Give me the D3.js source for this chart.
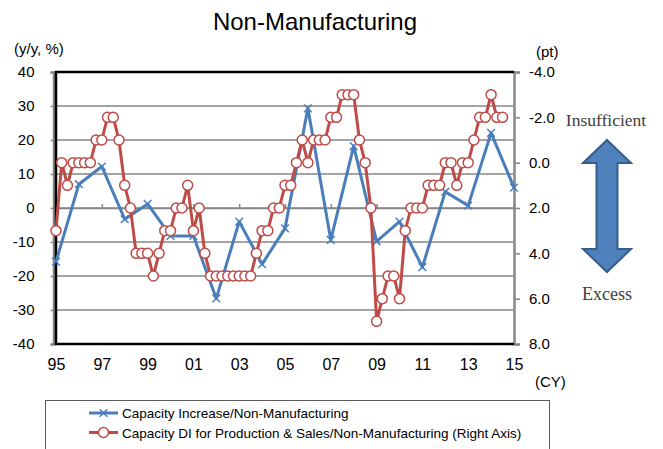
<!DOCTYPE html>
<html>
<head>
<meta charset="utf-8">
<script src="https://cdn.jsdelivr.net/npm/d3@7/dist/d3.min.js"></script>
<style>
    body { margin: 0; background: #fff; }
    svg text { font-family: "Liberation Sans", Arial, sans-serif; fill: #000; }
</style>
</head>
<body>
<div id="chart"></div>
<script>

// Annual capacity increase (y/y, %), left axis
var years = [1995, 1996, 1997, 1998, 1999, 2000, 2001, 2002, 2003, 2004, 2005,
             2006, 2007, 2008, 2009, 2010, 2011, 2012, 2013, 2014, 2015];
var capacityIncrease = [-15.8, 7.0, 12.2, -3.3, 1.2, -8.2, -8.2, -26.6, -4.0, -16.5, -6.0,
                        29.3, -9.4, 18.2, -9.8, -4.0, -17.4, 4.8, 0.7, 22.1, 6.0];

// Quarterly capacity DI (pt), right axis, starting 1995 Q1
var diStartYear = 1995;
var capacityDI = [ 3,  0,  1,  0,   0,  0,  0, -1,  -1, -2, -2, -1,   1,  2,  4,  4,
                   4,  5,  4,  3,   3,  2,  2,  1,   3,  2,  4,  5,   5,  5,  5,  5,
                   5,  5,  5,  4,   3,  3,  2,  2,   1,  1,  0, -1,   0, -1, -1, -1,
                  -2, -2, -3, -3,  -3, -1,  0,  2,   7,  6,  5,  5,   6,  3,  2,  2,
                   2,  1,  1,  1,   0,  0,  1,  0,   0, -1, -2, -2,  -3, -2, -2];

// Axis ticks
var leftTicks = [-40, -30, -20, -10, 0, 10, 20, 30, 40];
var rightTicks = [-4, -2, 0, 2, 4, 6, 8];
var xTickYears = [1995, 1997, 1999, 2001, 2003, 2005, 2007, 2009, 2011, 2013, 2015];

// Legend labels
var seriesNames = ["Capacity Increase/Non-Manufacturing",
                   "Capacity DI for Production & Sales/Non-Manufacturing (Right Axis)"];

var BLUE = "#4a7ebb", RED = "#be4b48", GRID = "#868686";

var W = 663, H = 449;
var margin = { top: 72, left: 56 },
    width = 458,
    height = 272;

var svg = d3.select("#chart").append("svg")
    .attr("width", W)
    .attr("height", H);

// Title and unit labels
svg.append("text")
    .attr("x", 315).attr("y", 30)
    .attr("text-anchor", "middle")
    .style("font-size", "24px")
    .text("Non-Manufacturing");

svg.append("text").attr("x", 14).attr("y", 54).style("font-size", "15px").text("(y/y, %)");
svg.append("text").attr("x", 536).attr("y", 57).style("font-size", "15px").text("(pt)");
svg.append("text").attr("x", 535).attr("y", 387).style("font-size", "15px").text("(CY)");

var g = svg.append("g")
    .attr("transform", "translate(" + margin.left + "," + margin.top + ")");

// Scales
var xScale = d3.scaleLinear().domain([1995, 2015]).range([0, width]);
var yLeft = d3.scaleLinear().domain([-40, 40]).range([height, 0]);
var yRight = d3.scaleLinear().domain([-4, 8]).range([0, height]);

// Horizontal gridlines
g.append("g")
    .selectAll("line")
    .data(leftTicks.slice(1, -1))
    .enter().append("line")
    .attr("x1", 0).attr("x2", width)
    .attr("y1", function (d) { return yLeft(d); })
    .attr("y2", function (d) { return yLeft(d); })
    .style("stroke", GRID)
    .style("stroke-width", 1.5);

// Category axis crossing at zero, with small upward ticks
var xAxisZero = g.append("g")
    .attr("transform", "translate(0," + yLeft(0) + ")")
    .call(d3.axisTop(xScale).tickValues(xTickYears).tickSize(4).tickFormat(""));
xAxisZero.select(".domain").style("stroke", GRID).style("stroke-width", 1.5);
xAxisZero.selectAll(".tick line").style("stroke", GRID).style("stroke-width", 1.5);

// Category labels under the plot
var xLabels = g.append("g")
    .attr("transform", "translate(0," + height + ")")
    .call(d3.axisBottom(xScale).tickValues(xTickYears).tickSize(0).tickPadding(14.6)
        .tickFormat(function (d) { return d3.format("02d")(d % 100); }));
xLabels.select(".domain").remove();
xLabels.selectAll("text").style("font-size", "16px").style("fill", "#000");

// Left value axis
var leftAxis = g.append("g")
    .attr("transform", "translate(-2.5,0)")
    .call(d3.axisLeft(yLeft).tickValues(leftTicks).tickSize(3).tickPadding(16)
        .tickFormat(function (d) { return String(d); }));
leftAxis.select(".domain").style("stroke", GRID).style("stroke-width", 2.5);
leftAxis.selectAll(".tick line").style("stroke", GRID).style("stroke-width", 1.5);
leftAxis.selectAll("text").style("font-size", "15px").style("fill", "#000");

// Right value axis (reversed)
var rightAxis = g.append("g")
    .attr("transform", "translate(" + width + ",0)")
    .call(d3.axisRight(yRight).tickValues(rightTicks).tickSize(6).tickPadding(9)
        .tickFormat(function (d) { return d.toFixed(1); }));
rightAxis.select(".domain").style("stroke", GRID).style("stroke-width", 2.5);
rightAxis.selectAll(".tick line").style("stroke", GRID).style("stroke-width", 1.5);
rightAxis.selectAll("text").style("font-size", "15px").style("fill", "#000");

// Black plot frame: top, left, bottom
g.append("path")
    .attr("d", "M" + width + ",0H0V" + height + "H" + width)
    .style("fill", "none")
    .style("stroke", "#000")
    .style("stroke-width", 2.5);

//------------------------------------------------------------------------------------->

var blueData = years.map(function (y, i) { return { x: y, v: capacityIncrease[i] }; });
var redData = capacityDI.map(function (v, i) { return { x: diStartYear + i / 4, v: v }; });

var blueLine = d3.line()
    .x(function (d) { return xScale(d.x); })
    .y(function (d) { return yLeft(d.v); });

var redLine = d3.line()
    .x(function (d) { return xScale(d.x); })
    .y(function (d) { return yRight(d.v); });

var crossSymbol = d3.symbol().type(d3.symbolX).size(40);

g.append("path")
    .datum(blueData)
    .attr("d", blueLine)
    .style("fill", "none")
    .style("stroke", BLUE)
    .style("stroke-width", 3)
    .style("stroke-linejoin", "round");

g.append("g")
    .selectAll("path")
    .data(blueData)
    .enter().append("path")
    .attr("transform", function (d) { return "translate(" + xScale(d.x) + "," + yLeft(d.v) + ")"; })
    .attr("d", crossSymbol)
    .style("fill", "none")
    .style("stroke", BLUE)
    .style("stroke-width", 1.5);

g.append("path")
    .datum(redData)
    .attr("d", redLine)
    .style("fill", "none")
    .style("stroke", RED)
    .style("stroke-width", 3)
    .style("stroke-linejoin", "round");

g.append("g")
    .selectAll("circle")
    .data(redData)
    .enter().append("circle")
    .attr("cx", function (d) { return xScale(d.x); })
    .attr("cy", function (d) { return yRight(d.v); })
    .attr("r", 5)
    .style("fill", "#fff")
    .style("stroke", RED)
    .style("stroke-width", 1.5);

//------------------------------------------------------------------------------------->

// Insufficient / Excess annotation with a double arrow
svg.append("text")
    .attr("x", 606).attr("y", 126)
    .attr("text-anchor", "middle")
    .style("font-family", "'Liberation Serif', 'Times New Roman', serif")
    .style("font-size", "17.5px")
    .style("fill", "#404040")
    .text("Insufficient");

svg.append("text")
    .attr("x", 607).attr("y", 300)
    .attr("text-anchor", "middle")
    .style("font-family", "'Liberation Serif', 'Times New Roman', serif")
    .style("font-size", "18px")
    .style("fill", "#404040")
    .text("Excess");

var arrow = { cx: 607, top: 140, bottom: 272, head: 23, headW: 24, shaftW: 10.5 };
var arrowPath = d3.path();
arrowPath.moveTo(arrow.cx, arrow.top);
arrowPath.lineTo(arrow.cx + arrow.headW, arrow.top + arrow.head);
arrowPath.lineTo(arrow.cx + arrow.shaftW, arrow.top + arrow.head);
arrowPath.lineTo(arrow.cx + arrow.shaftW, arrow.bottom - arrow.head);
arrowPath.lineTo(arrow.cx + arrow.headW, arrow.bottom - arrow.head);
arrowPath.lineTo(arrow.cx, arrow.bottom);
arrowPath.lineTo(arrow.cx - arrow.headW, arrow.bottom - arrow.head);
arrowPath.lineTo(arrow.cx - arrow.shaftW, arrow.bottom - arrow.head);
arrowPath.lineTo(arrow.cx - arrow.shaftW, arrow.top + arrow.head);
arrowPath.lineTo(arrow.cx - arrow.headW, arrow.top + arrow.head);
arrowPath.closePath();

svg.append("path")
    .attr("d", arrowPath.toString())
    .style("fill", "#4f81bd")
    .style("stroke", "#385d8a")
    .style("stroke-width", 2)
    .style("stroke-linejoin", "miter");

//------------------------------------------------------------------------------------->

// Legend box (runs off the bottom edge, as in the original)
var legend = svg.append("g");
legend.append("rect")
    .attr("x", 45.5).attr("y", 400.5)
    .attr("width", 504).attr("height", 70)
    .style("fill", "#fff")
    .style("stroke", "#5a5a5a")
    .style("stroke-width", 1);

var legendItems = legend.selectAll(".item")
    .data(seriesNames)
    .enter().append("g")
    .attr("class", "item")
    .attr("transform", function (d, i) { return "translate(89," + (413 + i * 19.5) + ")"; });

legendItems.append("line")
    .attr("x1", 0).attr("x2", 29)
    .style("stroke", function (d, i) { return i === 0 ? BLUE : RED; })
    .style("stroke-width", 3);

legendItems.filter(function (d, i) { return i === 0; })
    .append("path")
    .attr("transform", "translate(14.5,0)")
    .attr("d", crossSymbol)
    .style("fill", "none")
    .style("stroke", BLUE)
    .style("stroke-width", 1.5);

legendItems.filter(function (d, i) { return i === 1; })
    .append("circle")
    .attr("cx", 14.5)
    .attr("r", 5)
    .style("fill", "#fff")
    .style("stroke", RED)
    .style("stroke-width", 1.5);

legendItems.append("text")
    .attr("x", 33)
    .attr("y", 5)
    .style("font-size", "13.5px")
    .text(String);

</script>
</body>
</html>
